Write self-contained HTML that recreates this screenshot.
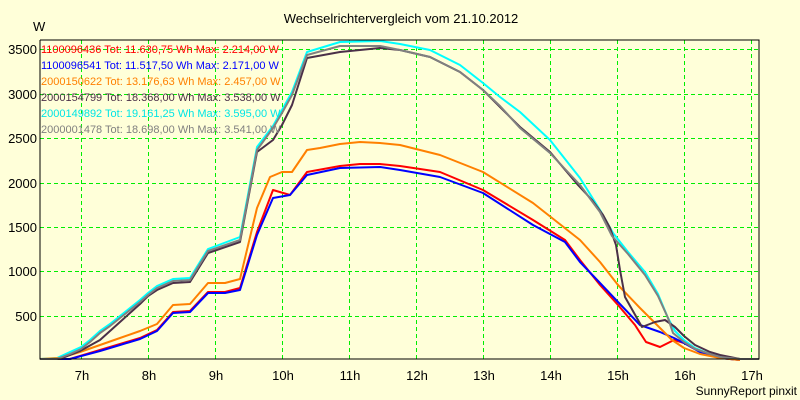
<!DOCTYPE html>
<html><head><meta charset="utf-8"><style>
body{margin:0;background:#ffffd9;}
svg{display:block;font-family:"Liberation Sans",sans-serif;}
</style></head><body>
<svg width="800" height="400" viewBox="0 0 800 400">
<rect width="800" height="400" fill="#ffffd9"/>
<text x="401" y="23" font-size="13" text-anchor="middle" fill="#000">Wechselrichtervergleich vom 21.10.2012</text>
<text x="33" y="31" font-size="13" fill="#000">W</text>
<g stroke="#00ee00" stroke-width="1" stroke-dasharray="4,3">
<line x1="40" x2="759" y1="49.5" y2="49.5"/><line x1="40" x2="759" y1="94.5" y2="94.5"/><line x1="40" x2="759" y1="138.5" y2="138.5"/><line x1="40" x2="759" y1="183.5" y2="183.5"/><line x1="40" x2="759" y1="227.5" y2="227.5"/><line x1="40" x2="759" y1="271.5" y2="271.5"/><line x1="40" x2="759" y1="316.5" y2="316.5"/>
<line y1="40" y2="359" x1="81.5" x2="81.5"/><line y1="40" y2="359" x1="148.5" x2="148.5"/><line y1="40" y2="359" x1="215.5" x2="215.5"/><line y1="40" y2="359" x1="282.5" x2="282.5"/><line y1="40" y2="359" x1="349.5" x2="349.5"/><line y1="40" y2="359" x1="416.5" x2="416.5"/><line y1="40" y2="359" x1="483.5" x2="483.5"/><line y1="40" y2="359" x1="550.5" x2="550.5"/><line y1="40" y2="359" x1="617.5" x2="617.5"/><line y1="40" y2="359" x1="684.5" x2="684.5"/><line y1="40" y2="359" x1="751.5" x2="751.5"/>
</g>
<g font-size="13" fill="#000" text-anchor="end">
<text x="37" y="54">3500</text><text x="37" y="99">3000</text><text x="37" y="143">2500</text><text x="37" y="188">2000</text><text x="37" y="232">1500</text><text x="37" y="276">1000</text><text x="37" y="321">500</text>
</g>
<g font-size="13" fill="#000" text-anchor="middle">
<text x="82" y="380">7h</text><text x="149" y="380">8h</text><text x="216" y="380">9h</text><text x="283" y="380">10h</text><text x="350" y="380">11h</text><text x="417" y="380">12h</text><text x="484" y="380">13h</text><text x="551" y="380">14h</text><text x="618" y="380">15h</text><text x="685" y="380">16h</text><text x="752" y="380">17h</text>
</g>
<text x="797" y="395" font-size="12" text-anchor="end" fill="#000">SunnyReport pinxit</text>
<g fill="none" stroke-width="2" stroke-linejoin="round">
<polyline stroke="#00ffff" points="40,359 57,358 70,352 81,347 90,340 100,331 110,324 120,316 130,308 140,300 148,293 157,286 173,279 190,278 208,249 240,237 257,147 273,126 282,110 292,92 307,52 340,42 380,41 400,44 430,50 460,65 483,83 500,97 520,112 550,140 580,178 600,210 613,233 628,252 645,272 658,294 668,318 675,331 684,340 695,348 710,354 720,357 740,359"/>
<polyline stroke="#ff0000" points="40,359 70,359 100,350 120,344 140,338 157,330 173,312 190,311 208,292 225,292 240,288 257,232 273,190 290,195 307,172 340,166 360,164 380,164 400,166 440,172 483,190 533,220 565,240 580,260 600,285 618,305 635,325 646,342 660,347 674,340 684,343 700,352 720,358 740,360"/>
<polyline stroke="#0000ff" points="40,359 70,359 100,351 120,345 140,339 157,331 173,313 190,312 208,293 225,293 240,290 257,235 273,198 290,195 307,175 340,168 380,167 400,170 440,177 483,193 533,225 565,242 580,262 600,283 618,302 640,325 660,332 674,338 684,343 700,352 720,358 740,360"/>
<polyline stroke="#ff8000" points="40,359 60,358 80,352 100,345 120,338 140,331 157,324 173,305 190,304 208,283 225,283 240,279 257,208 270,177 282,172 292,172 307,150 320,148 340,144 360,142 380,143 400,145 440,155 483,172 533,203 580,240 600,262 618,285 640,308 660,328 672,340 684,348 700,354 720,358 740,360"/>
<polyline stroke="#4b3048" points="40,359 60,359 80,351 100,340 120,322 140,304 148,296 157,290 173,283 190,282 208,253 240,242 257,152 273,140 282,125 292,105 307,58 340,52 380,48 400,50 430,57 460,72 483,90 520,127 550,152 578,185 592,200 603,215 610,228 616,245 620,270 625,297 642,327 655,322 665,320 675,327 684,336 695,345 710,352 720,355 740,359"/>
<polyline stroke="#808080" points="40,359 57,359 70,354 81,349 90,342 100,333 110,326 120,318 130,310 140,302 148,295 157,288 173,281 190,280 208,251 240,240 257,150 273,128 282,113 292,95 307,55 340,46 380,46 400,50 430,57 460,72 483,90 500,106 520,128 550,153 580,185 600,212 612,236 628,254 645,275 658,296 668,318 673,333 684,342 695,349 710,354 720,357 740,359 759,359"/>
</g>
<polyline points="40,40 759,40 759,359 40,359 40,40" fill="none" stroke="#000" stroke-width="1"/>
<g font-size="11">
<text x="41" y="53" fill="#ff0000">1100096436 Tot: 11.630,75 Wh Max: 2.214,00 W</text>
<text x="41" y="69" fill="#0000ff">1100096541 Tot: 11.517,50 Wh Max: 2.171,00 W</text>
<text x="41" y="85" fill="#ff8000">2000150622 Tot: 13.176,63 Wh Max: 2.457,00 W</text>
<text x="41" y="101" fill="#4b3048">2000154799 Tot: 18.368,00 Wh Max: 3.538,00 W</text>
<text x="41" y="117" fill="#00e5e5">2000149892 Tot: 19.161,25 Wh Max: 3.595,00 W</text>
<text x="41" y="133" fill="#808080">2000001478 Tot: 18.698,00 Wh Max: 3.541,00 W</text>
</g>
</svg>
</body></html>
